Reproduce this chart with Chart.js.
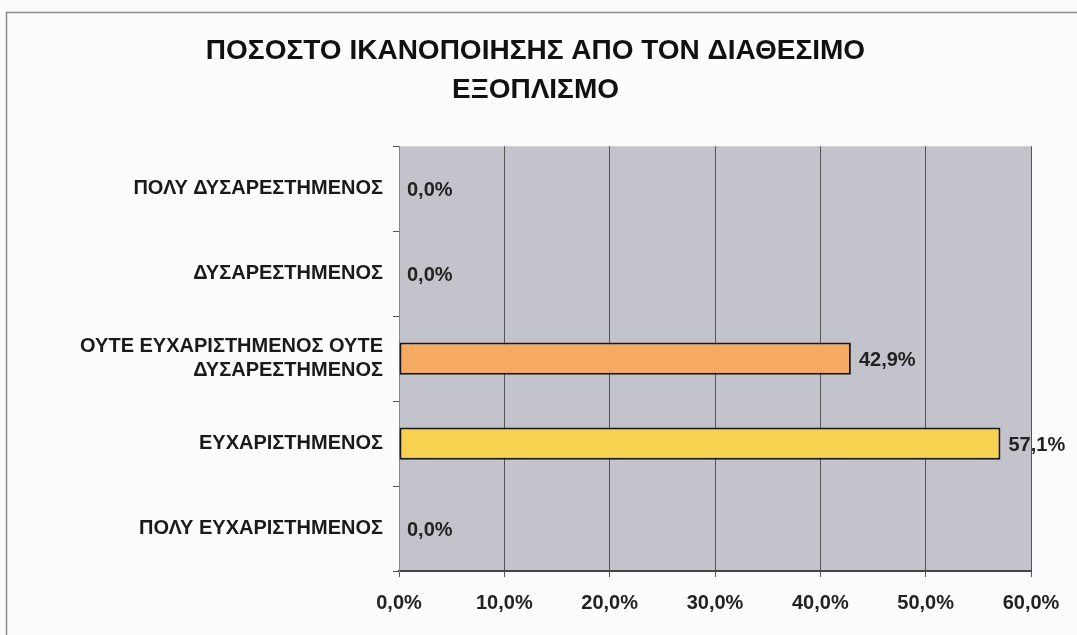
<!DOCTYPE html>
<html>
<head>
<meta charset="utf-8">
<script src="https://cdn.jsdelivr.net/npm/chart.js@4/dist/chart.umd.min.js"></script>
<style>
  html, body { margin: 0; padding: 0; background: #fbfcfd; }
  #wrap { width: 1077px; height: 635px; }
</style>
</head>
<body>
<div id="wrap"><canvas id="chart-satisfaction" width="1077" height="635"></canvas></div>
<script>
var titleLines = ['ΠΟΣΟΣΤΟ ΙΚΑΝΟΠΟΙΗΣΗΣ ΑΠΟ ΤΟΝ ΔΙΑΘΕΣΙΜΟ', 'ΕΞΟΠΛΙΣΜΟ'];
var categories = [
    'ΠΟΛΥ ΔΥΣΑΡΕΣΤΗΜΕΝΟΣ',
    'ΔΥΣΑΡΕΣΤΗΜΕΝΟΣ',
    ['ΟΥΤΕ ΕΥΧΑΡΙΣΤΗΜΕΝΟΣ ΟΥΤΕ', 'ΔΥΣΑΡΕΣΤΗΜΕΝΟΣ'],
    'ΕΥΧΑΡΙΣΤΗΜΕΝΟΣ',
    'ΠΟΛΥ ΕΥΧΑΡΙΣΤΗΜΕΝΟΣ'
];
var percents = [0.0, 0.0, 42.9, 57.1, 0.0];
var barColors = ['#e07070', '#f0a0a0', '#f6aa62', '#f9d150', '#f0e080'];
var xTicks = [0, 10, 20, 30, 40, 50, 60];

var FONT = "'Liberation Sans', Arial, sans-serif";

function fmt(v) {
    return v.toFixed(1).replace('.', ',') + '%';
}

var plotBackground = {
    id: 'plotBackground',
    beforeDraw: function (chart) {
        var c = chart.ctx, a = chart.chartArea;
        c.save();
        c.fillStyle = '#fbfcfd';
        c.fillRect(0, 0, chart.width, chart.height);
        c.strokeStyle = '#8a8a8a';
        c.lineWidth = 1.5;
        c.beginPath();
        c.moveTo(6.5, chart.height);
        c.lineTo(6.5, 12.5);
        c.lineTo(chart.width, 12.5);
        c.stroke();
        c.fillStyle = '#c3c3cb';
        c.fillRect(a.left, a.top, a.right - a.left, a.bottom - a.top);
        c.restore();
    }
};

var valueLabels = {
    id: 'valueLabels',
    afterDatasetsDraw: function (chart) {
        var c = chart.ctx;
        var meta = chart.getDatasetMeta(0);
        c.save();
        c.font = 'bold 20px ' + FONT;
        c.fillStyle = '#222';
        c.textAlign = 'left';
        c.textBaseline = 'middle';
        meta.data.forEach(function (bar, i) {
            c.fillText(fmt(percents[i]), bar.x + 8, bar.y + 2);
        });
        c.restore();
    }
};

new Chart(document.getElementById('chart-satisfaction'), {
    type: 'bar',
    data: {
        labels: categories,
        datasets: [{
            data: percents,
            backgroundColor: barColors,
            borderColor: '#1a1a1a',
            borderWidth: 2,
            borderSkipped: false,
            categoryPercentage: 1,
            barPercentage: 0.38
        }]
    },
    options: {
        indexAxis: 'y',
        responsive: false,
        animation: false,
        layout: { padding: { left: 40, right: 46, top: 10, bottom: 6 } },
        plugins: {
            legend: { display: false },
            tooltip: { enabled: false },
            title: {
                display: true,
                text: titleLines,
                color: '#111',
                font: { family: FONT, size: 28, weight: 'bold', lineHeight: 1.38 },
                padding: { top: 22, bottom: 37 }
            }
        },
        scales: {
            x: {
                min: 0,
                max: 60,
                afterBuildTicks: function (scale) {
                    scale.ticks = xTicks.map(function (v) { return { value: v }; });
                },
                ticks: {
                    color: '#222',
                    font: { family: FONT, size: 20, weight: 'bold' },
                    padding: 14,
                    callback: function (v) { return fmt(v); }
                },
                grid: { color: '#555', lineWidth: 1, tickLength: 6, drawTicks: true },
                border: { color: '#444', width: 2 }
            },
            y: {
                afterFit: function (scale) { scale.width = 359; },
                ticks: {
                    color: '#1a1a1a',
                    font: { family: FONT, size: 20, weight: 'bold' },
                    padding: 10
                },
                grid: { drawOnChartArea: false, drawTicks: true, tickLength: 6, color: '#555', offset: true },
                border: { color: '#888', width: 1 }
            }
        }
    },
    plugins: [plotBackground, valueLabels]
});
</script>
</body>
</html>
